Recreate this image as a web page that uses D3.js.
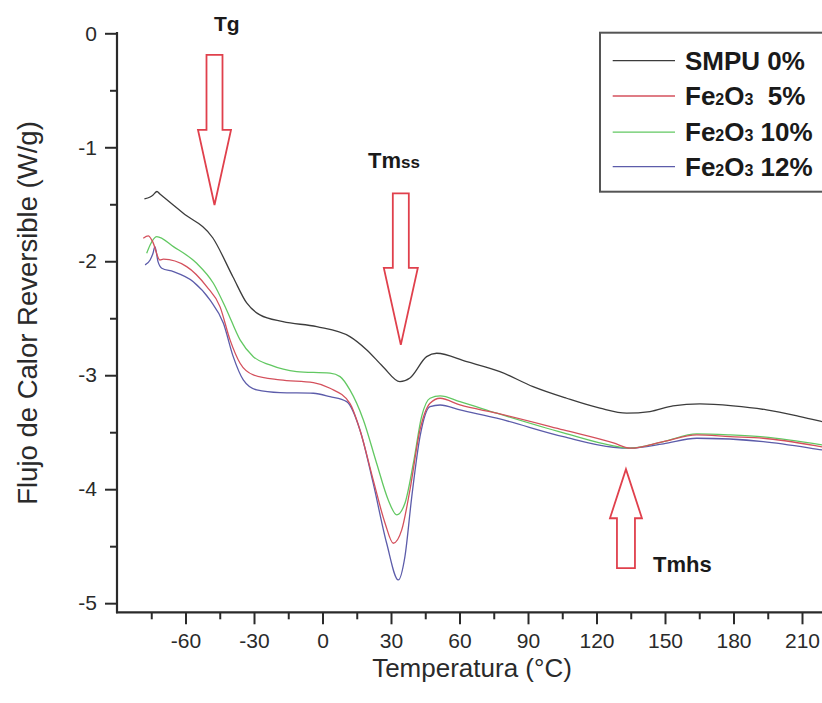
<!DOCTYPE html>
<html>
<head>
<meta charset="utf-8">
<script src="https://cdn.jsdelivr.net/npm/d3@7"></script>
<style>
  html, body { margin: 0; padding: 0; background: #fff; }
  svg { display: block; }
  text { font-family: "Liberation Sans", Arial, sans-serif; }
</style>
</head>
<body>
<svg id="chart" width="822" height="703"></svg>
<script>
// ---------------- DATA ----------------
const xTicks = [-60, -30, 0, 30, 60, 90, 120, 150, 180, 210];
const yTicks = [0, -1, -2, -3, -4, -5];
const seriesNames = ["SMPU 0%", "Fe2O3 5%", "Fe2O3 10%", "Fe2O3 12%"];

// [temperature °C, reversing heat flow W/g]
const smpu0 = [
  [-78.0,-1.453],[-75.5,-1.436],[-74.2,-1.418],[-72.5,-1.388],[-71.2,-1.410],
  [-61.1,-1.576],[-48.0,-1.796],[-39.2,-2.138],[-33.2,-2.366],[-27.4,-2.471],
  [-17.3,-2.530],[-2.5,-2.574],[12.0,-2.661],[19.4,-2.778],[26.5,-2.925],
  [33.9,-3.056],[38.3,-3.024],[45.6,-2.837],[50.0,-2.807],[63.2,-2.881],
  [77.7,-2.968],[92.2,-3.100],[106.9,-3.202],[121.5,-3.289],[133.2,-3.333],
  [143.4,-3.319],[153.5,-3.269],[165.3,-3.252],[179.8,-3.269],[194.5,-3.304],
  [209.2,-3.363],[218.8,-3.407],[230,-3.46]
];
const fe5 = [
  [-78.5,-1.798],[-76.3,-1.778],[-74.4,-1.828],[-71.2,-1.989],[-69.7,-1.982],
  [-59.5,-2.047],[-50.7,-2.223],[-44.9,-2.398],[-40.5,-2.690],[-36.1,-2.895],
  [-30.3,-2.997],[-18.6,-3.041],[-4.0,-3.065],[3.3,-3.114],[12.0,-3.246],
  [16.4,-3.480],[22.2,-3.918],[27.4,-4.298],[31.0,-4.474],[34.7,-4.357],
  [38.3,-4.006],[42.7,-3.480],[47.1,-3.246],[51.5,-3.202],[60.2,-3.261],
  [76.3,-3.333],[105.5,-3.480],[127.4,-3.594],[134.7,-3.640],[149.3,-3.582],
  [163.9,-3.524],[178.5,-3.539],[193.0,-3.553],[218.8,-3.629],[230,-3.67]
];
const fe10 = [
  [-77.0,-1.930],[-75.5,-1.857],[-72.6,-1.784],[-65.3,-1.872],[-55.1,-2.018],
  [-47.8,-2.193],[-42.0,-2.427],[-36.1,-2.690],[-30.3,-2.837],[-23.0,-2.910],
  [-11.3,-2.968],[3.3,-2.982],[7.7,-3.012],[12.0,-3.129],[17.9,-3.392],
  [23.7,-3.772],[28.8,-4.094],[32.5,-4.225],[36.1,-4.123],[39.8,-3.772],
  [43.4,-3.363],[47.1,-3.202],[51.5,-3.182],[60.2,-3.232],[76.3,-3.333],
  [105.5,-3.506],[127.4,-3.620],[134.7,-3.640],[149.3,-3.582],[163.9,-3.515],
  [178.5,-3.524],[193.0,-3.541],[218.8,-3.611],[230,-3.65]
];
const fe12 = [
  [-77.7,-2.032],[-75.5,-1.989],[-74.2,-1.927],[-73.4,-1.872],[-72.0,-2.006],
  [-70.4,-2.061],[-65.3,-2.091],[-56.6,-2.179],[-49.3,-2.339],[-43.4,-2.544],
  [-39.1,-2.837],[-34.7,-3.041],[-28.8,-3.129],[-18.6,-3.153],[-4.0,-3.158],
  [3.3,-3.188],[10.6,-3.232],[16.4,-3.480],[22.2,-3.947],[28.1,-4.474],
  [33.2,-4.796],[36.1,-4.591],[39.1,-4.065],[42.7,-3.539],[47.1,-3.275],
  [51.5,-3.261],[60.2,-3.304],[76.3,-3.377],[105.5,-3.539],[127.4,-3.632],
  [134.7,-3.640],[149.3,-3.602],[163.9,-3.553],[193.0,-3.582],[218.8,-3.655],[230,-3.69]
];

// annotation arrows: x position (°C), tail and tip (W/g)
const arrowLabels = ["Tg", "Tmss", "Tmhs"];
const arrowX = [-47.3, 34.3, 132.9];
const arrowTail = [-0.190, -1.404, -4.693];
const arrowTip = [-1.506, -2.734, -3.825];

// ---------------- CHART ----------------
const svg = d3.select("#chart");
const font = '"Liberation Sans", Arial, sans-serif';
const colors = ["#3c3c3c", "#d4505c", "#62c862", "#5c5caa"];

const x = d3.scaleLinear().domain([-90, 240]).range([117, 870.5]);
const y = d3.scaleLinear().domain([-5.08, 0]).range([612.3, 33.3]);

// clip
svg.append("defs").append("clipPath").attr("id", "clip")
  .append("rect").attr("x", 117).attr("y", 20).attr("width", 800).attr("height", 593);

// curves
const line = d3.line().x(d => x(d[0])).y(d => y(d[1])).curve(d3.curveMonotoneX);
const gLines = svg.append("g").attr("clip-path", "url(#clip)");
[smpu0, fe5, fe10, fe12].slice().reverse().forEach((s, i) => {
  const idx = 3 - i;
  gLines.append("path").attr("d", line(s)).attr("fill", "none")
    .attr("stroke", colors[idx]).attr("stroke-width", 1.3).attr("stroke-linejoin", "round");
});

// axes
const axisColor = "#2a2a2a";
const xAxis = svg.append("g").attr("transform", "translate(0,612.3)")
  .call(d3.axisBottom(x).tickValues(xTicks).tickSize(12).tickPadding(9).tickFormat(d3.format("d")));
const xMinor = svg.append("g").attr("transform", "translate(0,612.3)")
  .call(d3.axisBottom(x).tickValues(d3.range(-75, 240, 30)).tickSize(7).tickFormat(""));
const yAxis = svg.append("g").attr("transform", "translate(117,0)")
  .call(d3.axisLeft(y).tickValues(yTicks).tickSize(12).tickPadding(8).tickFormat(d3.format("d")));
const yMinor = svg.append("g").attr("transform", "translate(117,0)")
  .call(d3.axisLeft(y).tickValues([-0.5, -1.5, -2.5, -3.5, -4.5]).tickSize(7).tickFormat(""));
[xAxis, xMinor, yAxis, yMinor].forEach(g => {
  g.select(".domain").remove();
  g.selectAll("line").attr("stroke", axisColor).attr("stroke-width", 2);
  g.selectAll("text").attr("font-family", font).attr("font-size", 21).attr("fill", "#2a2a2a");
});
xAxis.selectAll("text").text(d => String(d));
yAxis.selectAll("text").text(d => String(d));
// axis lines
svg.append("line").attr("x1", 117).attr("x2", 117).attr("y1", 32).attr("y2", 613.3)
  .attr("stroke", axisColor).attr("stroke-width", 2.2);
svg.append("line").attr("x1", 116).attr("x2", 822).attr("y1", 612.3).attr("y2", 612.3)
  .attr("stroke", axisColor).attr("stroke-width", 2.2);

// axis titles
svg.append("text").attr("x", 472).attr("y", 677).attr("text-anchor", "middle")
  .attr("font-size", 26).attr("fill", "#2a2a2a").text("Temperatura (°C)");
svg.append("text").attr("transform", "translate(37,313) rotate(-90)").attr("text-anchor", "middle")
  .attr("font-size", 27.5).attr("fill", "#2a2a2a").text("Flujo de Calor Reversible (W/g)");

// arrows
const arrowColor = "#e0404c";
const arrowGeom = [
  {shaft: 16, head: 33, headLen: 75},
  {shaft: 16, head: 34, headLen: 77},
  {shaft: 18, head: 32, headLen: 49}
];
arrowLabels.forEach((lab, i) => {
  const cx = x(arrowX[i]);
  const ty = y(arrowTail[i]);
  const py = y(arrowTip[i]);
  const dir = py > ty ? 1 : -1;
  const g = arrowGeom[i];
  const baseY = py - dir * g.headLen;
  const pts = [
    [cx - g.shaft / 2, ty], [cx + g.shaft / 2, ty], [cx + g.shaft / 2, baseY],
    [cx + g.head / 2, baseY], [cx, py], [cx - g.head / 2, baseY], [cx - g.shaft / 2, baseY]
  ];
  svg.append("polygon").attr("points", pts.map(p => p.join(",")).join(" "))
    .attr("fill", "#fff").attr("stroke", arrowColor).attr("stroke-width", 1.8)
    .attr("stroke-linejoin", "miter");
});
// arrow labels
svg.append("text").attr("x", 214).attr("y", 31).attr("font-size", 21).attr("font-weight", "bold")
  .attr("fill", "#1a1a1a").text("Tg");
const tmss = svg.append("text").attr("x", 368).attr("y", 168).attr("font-size", 22)
  .attr("font-weight", "bold").attr("fill", "#1a1a1a");
tmss.append("tspan").text("Tm");
tmss.append("tspan").attr("font-size", 17).text("ss");
svg.append("text").attr("x", 653).attr("y", 572).attr("font-size", 22).attr("font-weight", "bold")
  .attr("fill", "#1a1a1a").text("Tmhs");

// legend
const leg = svg.append("g");
leg.append("rect").attr("x", 600).attr("y", 32.7).attr("width", 240).attr("height", 159)
  .attr("fill", "#fff").attr("stroke", "#555").attr("stroke-width", 2);
const rowY = [60.7, 96, 132.2, 166.7];
seriesNames.forEach((name, i) => {
  leg.append("line").attr("x1", 612.7).attr("x2", 675).attr("y1", rowY[i]).attr("y2", rowY[i])
    .attr("stroke", colors[i]).attr("stroke-width", 1.3);
  const t = leg.append("text").attr("x", 685).attr("y", rowY[i] + 9)
    .attr("font-size", 26).attr("font-weight", "bold").attr("fill", "#1a1a1a");
  if (name.startsWith("Fe2O3")) {
    const pct = name.split(" ")[1];
    t.append("tspan").text("Fe");
    t.append("tspan").attr("font-size", 16).text("2");
    t.append("tspan").text("O");
    t.append("tspan").attr("font-size", 16).text("3");
    t.append("tspan").text((pct.length === 2 ? "\u00a0 " : " ") + pct);
  } else {
    t.text(name);
  }
});
</script>
</body>
</html>
